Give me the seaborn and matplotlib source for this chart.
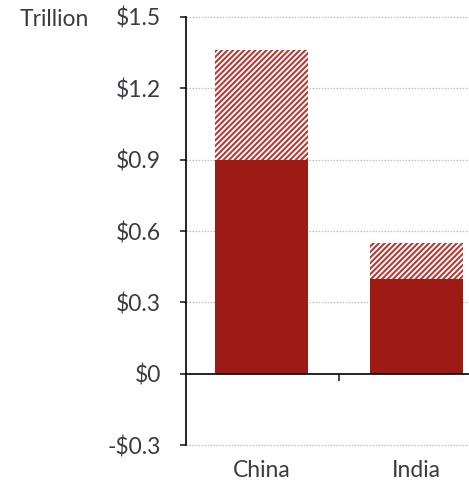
import numpy as np
import pandas as pd
import matplotlib
matplotlib.use("Agg")
import matplotlib.pyplot as plt
import seaborn as sns

# data (trillion $)
countries = ["China", "India"]
base_vals = [0.90, 0.40]
total_vals = [1.36, 0.55]
y_ticks = [-0.3, 0, 0.3, 0.6, 0.9, 1.2, 1.5]
y_labels = ["-$0.3", "$0", "$0.3", "$0.6", "$0.9", "$1.2", "$1.5"]

df = pd.DataFrame({"country": countries, "base": base_vals, "total": total_vals})

sns.set_style("white")
plt.rcParams["font.family"] = ["Lato", "DejaVu Sans"]
plt.rcParams["hatch.linewidth"] = 1.5
plt.rcParams["hatch.color"] = "#B83A34"

txt_col = "#3b3b45"
red = "#9E1A14"
fs = 16.5

fig = plt.figure(figsize=(4.69, 4.86), dpi=100)
ax = fig.add_axes([186 / 469, 1 - 445 / 486, 1 - 186 / 469, (445 - 17) / 486])

# hatched upper part (total), then solid part on top
sns.barplot(data=df, x="country", y="total", color="white", width=0.6,
            edgecolor="#B83A34", linewidth=0, hatch="//////", saturation=1, ax=ax)
sns.barplot(data=df, x="country", y="base", color=red, width=0.6,
            linewidth=0, saturation=1, ax=ax)

ax.set_xlim(-0.49, 1.34)
ax.set_ylim(-0.3, 1.5)
ax.set_yticks(y_ticks)
ax.set_yticklabels(y_labels, fontsize=fs, color=txt_col)
for y in y_ticks:
    if y != 0:
        ax.axhline(y, color="#bdbdbd", lw=0.9, ls=(0, (1.2, 1.2)), zorder=0,
                   clip_on=False)

for s in ["top", "right"]:
    ax.spines[s].set_visible(False)
ax.spines["left"].set_color("black")
ax.spines["left"].set_linewidth(1.2)
ax.spines["bottom"].set_position(("data", 0))
ax.spines["bottom"].set_color("black")
ax.spines["bottom"].set_linewidth(1.2)
ax.spines["bottom"].set_zorder(5)

ax.tick_params(axis="y", direction="out", length=4, width=1.2, pad=14, left=True)
ax.set_xticks([0.5])
ax.set_xticklabels([""])
ax.tick_params(axis="x", direction="out", length=5, width=1.2, bottom=True)
ax.set_xlabel("")
ax.set_ylabel("")

for i, name in enumerate(countries):
    ax.text(i, -0.06, name, transform=ax.get_xaxis_transform(), ha="center",
            va="center", fontsize=fs, color=txt_col)

fig.text(20 / 469, 1 - 20 / 486, "Trillion", fontsize=fs, color=txt_col,
         ha="left", va="center")

fig.savefig("out.png", dpi=100)
